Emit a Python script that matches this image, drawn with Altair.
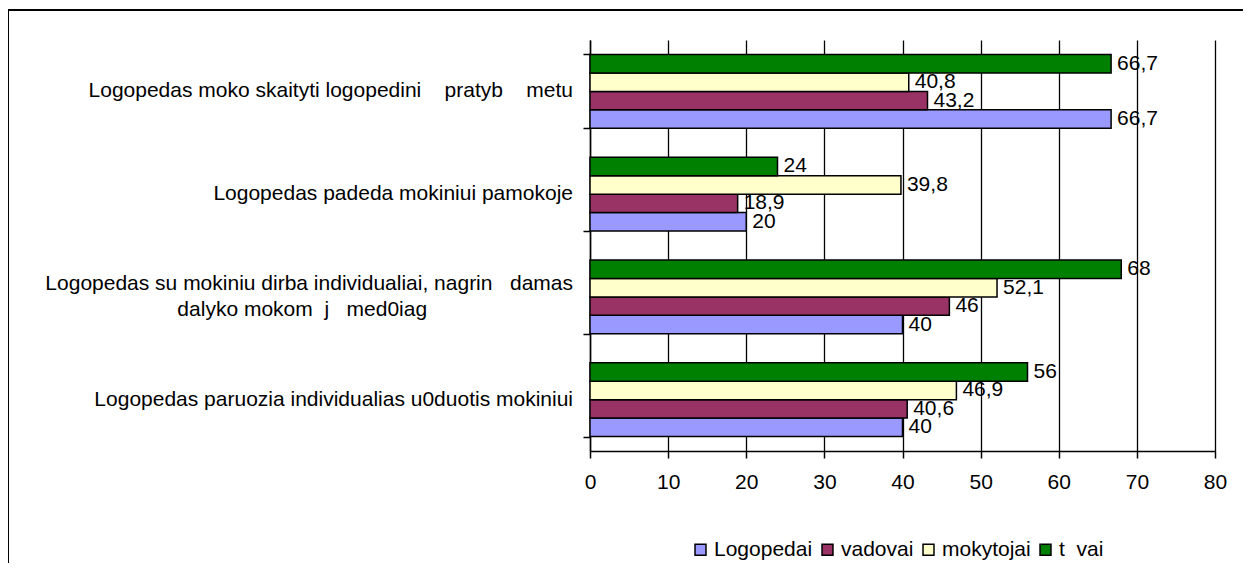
import altair as alt
import pandas as pd

NB = "\u00a0"

categories = [
    "Logopedas moko skaityti logopedini" + NB * 4 + "pratyb" + NB * 4 + "metu",
    "Logopedas padeda mokiniui pamokoje",
    "Logopedas su mokiniu dirba individualiai, nagrin" + NB * 3 + "damas|dalyko mokom" + NB * 2 + "j" + NB * 3 + "med0iag" + NB * 25 + "\u200b",
    "Logopedas paruozia individualias u0duotis mokiniui",
]
series = ["Logopedai", "vadovai", "mokytojai", "t" + NB * 2 + "vai"]
colors = ["#9999FF", "#993366", "#FFFFCC", "#008000"]

logopedai = [66.7, 20, 40, 40]
vadovai = [43.2, 18.9, 46, 40.6]
mokytojai = [40.8, 39.8, 52.1, 46.9]
tevai = [66.7, 24, 68, 56]

x_ticks = [0, 10, 20, 30, 40, 50, 60, 70, 80]

rows = []
for s, vals in zip(series, [logopedai, vadovai, mokytojai, tevai]):
    for c, v in zip(categories, vals):
        rows.append({"cat": c, "series": s, "value": v,
                     "label": f"{v:g}".replace(".", ",")})
df = pd.DataFrame(rows)

cat_df = pd.DataFrame({"cat": categories,
                       "multi": [1 if "|" in c else 0 for c in categories]})

FONT = "Liberation Sans"
FS = 21

y_enc = alt.Y("cat:N", sort=categories,
              scale=alt.Scale(paddingInner=0.28, paddingOuter=0.14),
              axis=alt.Axis(title=None, tickBand="extent", tickSize=7, tickWidth=1.5,
                            tickColor="black", domainColor="black", domainWidth=1.5,
                            labels=False))
yoff = alt.YOffset("series:N", sort=list(reversed(series)))
x_enc = alt.X("value:Q", scale=alt.Scale(domain=[0, 80], nice=False),
              axis=alt.Axis(values=x_ticks, title=None, grid=True, gridColor="black",
                            gridWidth=1.3, domainColor="black", domainWidth=1.5,
                            tickColor="black", tickSize=7, tickWidth=1.5,
                            labelFont=FONT, labelFontSize=FS, labelColor="black",
                            labelPadding=13, labelFlush=False))

base = alt.Chart(df)
bars = base.mark_bar(stroke="black", strokeWidth=1.5).encode(
    y=y_enc, yOffset=yoff, x=x_enc,
    color=alt.Color("series:N", sort=series,
                    scale=alt.Scale(domain=series, range=colors),
                    legend=alt.Legend(title=None, orient="none", legendX=100, legendY=499,
                                      direction="horizontal", symbolType="square",
                                      symbolSize=120, symbolStrokeColor="black",
                                      symbolStrokeWidth=1.5, labelFont=FONT,
                                      labelFontSize=FS, labelColor="black",
                                      labelOffset=3, columnPadding=4)),
)
text = base.mark_text(align="left", baseline="middle", dx=6, font=FONT,
                      fontSize=FS, color="black").encode(
    y=alt.Y("cat:N", sort=categories), yOffset=yoff, x="value:Q", text="label:N")

cat_base = alt.Chart(cat_df)
cat_single = cat_base.transform_filter("datum.multi == 0").mark_text(
    align="right", baseline="middle", font=FONT, fontSize=FS, color="black").encode(
    y=alt.Y("cat:N", sort=categories), x=alt.value(-17), text="cat:N")
cat_multi = cat_base.transform_filter("datum.multi == 1").mark_text(
    align="right", baseline="middle", font=FONT, fontSize=FS, color="black",
    lineBreak="|", lineHeight=26, dy=-13).encode(
    y=alt.Y("cat:N", sort=categories), x=alt.value(-17), text="cat:N")

border = alt.Chart(pd.DataFrame({"a": [0]})).mark_rect(
    fill="transparent", stroke="black", strokeWidth=2).encode(
    x=alt.value(-582), x2=alt.value(700), y=alt.value(-30), y2=alt.value(600))

chart = alt.layer(border, bars, text, cat_single, cat_multi).properties(
    width=625, height=411,
    autosize=alt.AutoSizeParams(type="none"),
    padding={"left": 582, "top": 32, "right": 28, "bottom": 112},
).configure_view(stroke=None)

chart.save("out.html", embed_options={"renderer": "svg", "actions": False})
